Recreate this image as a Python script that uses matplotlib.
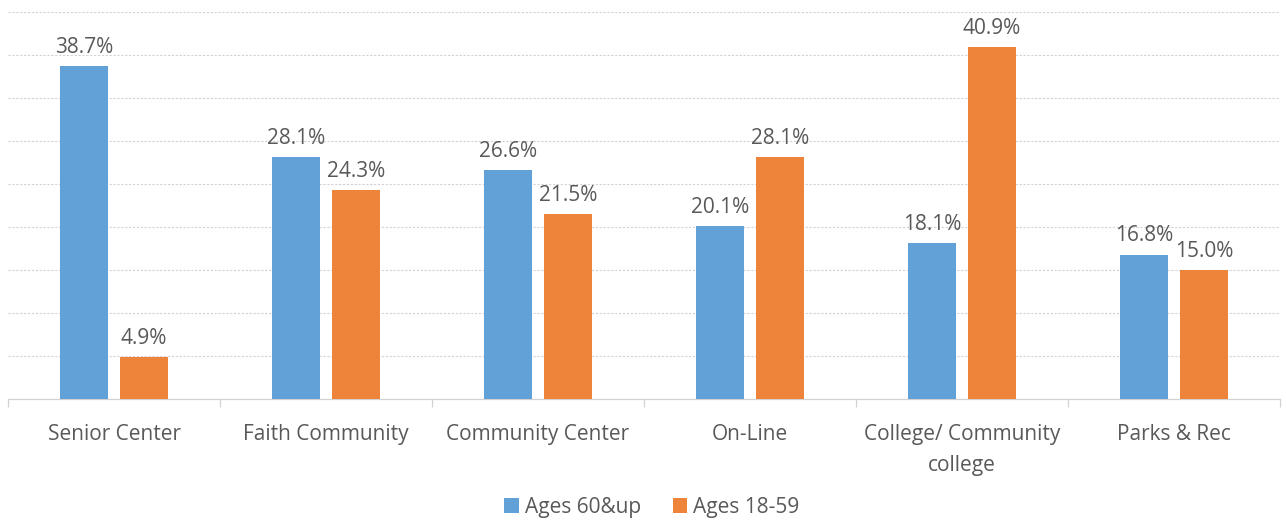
import matplotlib.pyplot as plt
import numpy as np

categories = ["Senior Center", "Faith Community", "Community Center", "On-Line",
              "College/ Community\ncollege", "Parks & Rec"]
ages_60_up = [38.7, 28.1, 26.6, 20.1, 18.1, 16.8]
ages_18_59 = [4.9, 24.3, 21.5, 28.1, 40.9, 15.0]
series_names = ["Ages 60&up", "Ages 18-59"]

plt.rcParams['font.family'] = ['Open Sans', 'DejaVu Sans']
TXT = '#595959'
BLUE = '#62A0D8'
ORANGE = '#EE8439'

fig = plt.figure(figsize=(12.86, 5.23), dpi=100)
ax = fig.add_axes([8/1286, 124/523, 1272/1286, (399-12)/523])

x = np.arange(len(categories))
w = 0.226
off = 0.142
b1 = ax.bar(x - off, ages_60_up, w, color=BLUE, zorder=3)
b2 = ax.bar(x + off, ages_18_59, w, color=ORANGE, zorder=3)

for bars, vals in ((b1, ages_60_up), (b2, ages_18_59)):
    for r, v in zip(bars, vals):
        ax.annotate(f"{v:.1f}%", (r.get_x() + r.get_width()/2, v),
                    xytext=(0, 6), textcoords='offset points',
                    ha='center', va='bottom', fontsize=15, color=TXT)

ax.set_xlim(-0.5, len(categories) - 0.5)
ax.set_ylim(0, 45)
ax.set_yticks(np.arange(5, 46, 5))
ax.yaxis.grid(True, color='#D2D2D2', linestyle=(0, (2, 1.5)), linewidth=0.8)
ax.set_axisbelow(True)
ax.tick_params(axis='y', left=False, labelleft=False)

ax.set_xticks(x)
ax.set_xticklabels(categories, fontsize=15, color=TXT, linespacing=1.6)
ax.tick_params(axis='x', which='major', length=0, pad=18)
ax.set_xticks(np.arange(-0.5, len(categories) + 0.5, 1), minor=True)
ax.tick_params(axis='x', which='minor', length=6, color='#D2D2D2', width=0.9)

for s in ['top', 'right', 'left']:
    ax.spines[s].set_visible(False)
ax.spines['bottom'].set_color('#D2D2D2')
ax.spines['bottom'].set_linewidth(0.9)

leg = fig.legend([b1, b2], series_names, loc='center', bbox_to_anchor=(652/1286, 1 - 507/523),
                 ncol=2, frameon=False, fontsize=15, handlelength=0.7, handleheight=0.7,
                 handletextpad=0.3, columnspacing=1.5)
for t in leg.get_texts():
    t.set_color(TXT)

fig.savefig('out.png', dpi=100)
